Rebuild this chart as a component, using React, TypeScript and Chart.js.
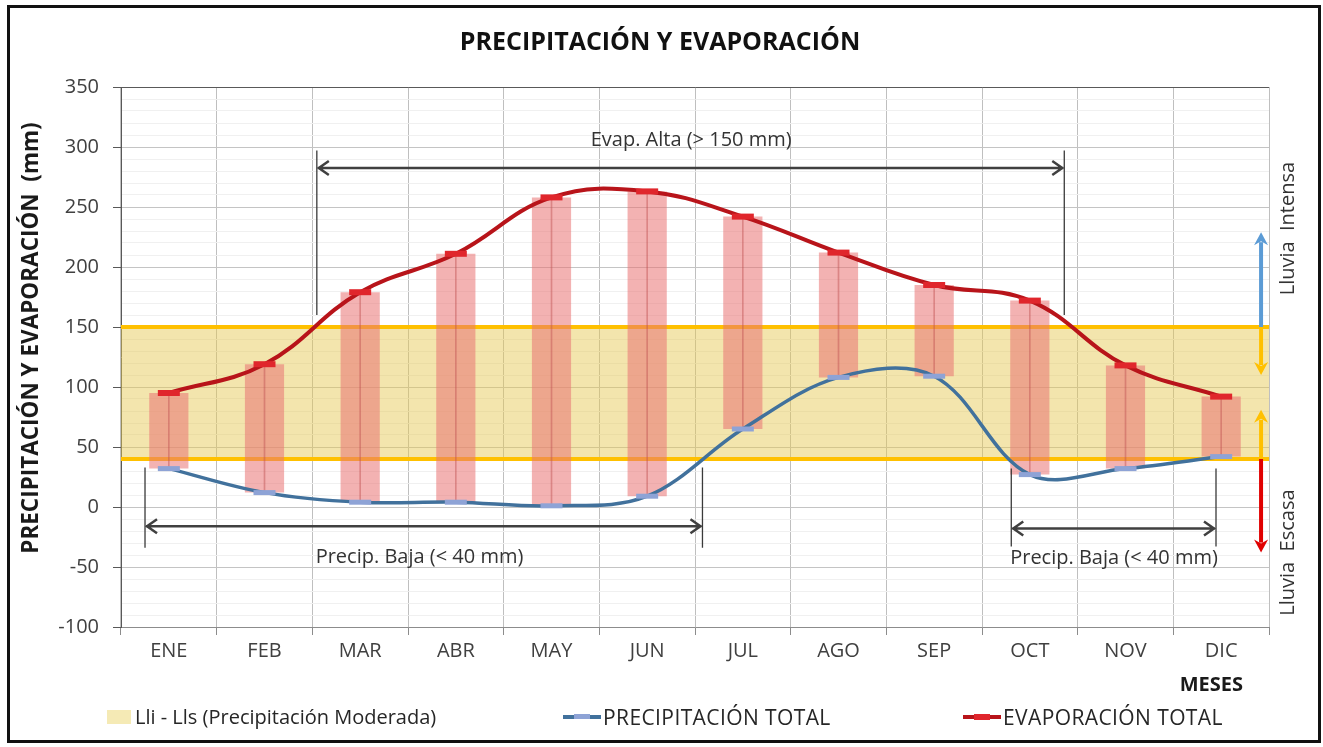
import React, { useEffect, useRef } from 'react';
import { Chart, registerables } from 'chart.js';

Chart.register(...registerables);

// ---------- data ----------
const MONTHS = ['ENE', 'FEB', 'MAR', 'ABR', 'MAY', 'JUN', 'JUL', 'AGO', 'SEP', 'OCT', 'NOV', 'DIC'];
const PRECIP = [32, 12, 4, 4, 1, 9, 65, 108, 109, 27, 32, 42];
const EVAP = [95, 119, 179, 211, 258, 263, 242, 212, 185, 172, 118, 92];
const BAND_LOW = 40;
const BAND_HIGH = 150;
const Y_MIN = -100;
const Y_MAX = 350;
const Y_STEP = 10;
const Y_MAJOR = 50;

// ---------- texts ----------
const TITLE = 'PRECIPITACIÓN Y EVAPORACIÓN';
const Y_TITLE = 'PRECIPITACIÓN Y EVAPORACIÓN  (mm)';
const X_TITLE = 'MESES';
const LEGEND_BAND = 'Lli - Lls (Precipitación Moderada)';
const LEGEND_PRECIP = 'PRECIPITACIÓN TOTAL';
const LEGEND_EVAP = 'EVAPORACIÓN TOTAL';

// ---------- annotations (x in category index units, y in mm) ----------
const DIM_TEXTS = ['Evap. Alta (> 150 mm)', 'Precip. Baja (< 40 mm)', 'Precip. Baja (< 40 mm)'];
const DIM_X1 = [1.547, -0.249, 8.806];
const DIM_X2 = [9.36, 5.578, 10.946];
const DIM_Y = [282.5, -16, -18];
const DIM_TOP = [297, 33, 32];
const DIM_BOTTOM = [160, -34, -33];
const DIM_TEXT_X = [5.46, 2.62, 9.88];
const DIM_TEXT_Y = [306, -42, -43];

const SIDE_FROM = [150, 150, 40, 40];
const SIDE_TO = [229, 110, 81, -38];
const SIDE_COLORS = ['#5B9BD5', '#FFC000', '#FFC000', '#E00000'];
const SIDE_X = 11.417;
const SIDE_LABELS = ['Lluvia  Intensa', 'Lluvia  Escasa'];
const SIDE_LABEL_Y = [232, -38];
const SIDE_LABEL_X = 11.7;

const FONT = '"Open Sans", "DejaVu Sans", sans-serif';
const TEXT_COLOR = '#333333';

const overlayPlugin = {
  id: 'overlay',
  afterDatasetsDraw(chart: any) {
    const { ctx, chartArea } = chart;
    const xs = chart.scales.x;
    const ys = chart.scales.y;
    const X = (v: number) => xs.getPixelForValue(v);
    const Y = (v: number) => ys.getPixelForValue(v);
    ctx.save();

    // dimension arrows
    for (let i = 0; i < DIM_TEXTS.length; i++) {
      const x1 = X(DIM_X1[i]);
      const x2 = X(DIM_X2[i]);
      const y = Y(DIM_Y[i]);
      ctx.strokeStyle = '#3a3a3a';
      ctx.lineWidth = 1.3;
      ctx.beginPath();
      ctx.moveTo(x1, Y(DIM_TOP[i]));
      ctx.lineTo(x1, Y(DIM_BOTTOM[i]));
      ctx.moveTo(x2, Y(DIM_TOP[i]));
      ctx.lineTo(x2, Y(DIM_BOTTOM[i]));
      ctx.stroke();
      ctx.lineWidth = 2.5;
      ctx.strokeStyle = '#404040';
      ctx.beginPath();
      ctx.moveTo(x1 + 1, y);
      ctx.lineTo(x2 - 1, y);
      ctx.moveTo(x1 + 12, y - 7);
      ctx.lineTo(x1 + 2, y);
      ctx.lineTo(x1 + 12, y + 7);
      ctx.moveTo(x2 - 12, y - 7);
      ctx.lineTo(x2 - 2, y);
      ctx.lineTo(x2 - 12, y + 7);
      ctx.stroke();
      ctx.fillStyle = TEXT_COLOR;
      ctx.font = `20px ${FONT}`;
      ctx.textAlign = 'center';
      ctx.textBaseline = 'middle';
      ctx.fillText(DIM_TEXTS[i], X(DIM_TEXT_X[i]), Y(DIM_TEXT_Y[i]));
    }

    // side arrows
    const sx = X(SIDE_X);
    for (let i = 0; i < SIDE_FROM.length; i++) {
      const y0 = Y(SIDE_FROM[i]);
      const y1 = Y(SIDE_TO[i]);
      const dir = y1 < y0 ? -1 : 1;
      ctx.strokeStyle = SIDE_COLORS[i];
      ctx.fillStyle = SIDE_COLORS[i];
      ctx.lineWidth = 4;
      ctx.beginPath();
      ctx.moveTo(sx, y0);
      ctx.lineTo(sx, y1 - dir * 10);
      ctx.stroke();
      ctx.beginPath();
      ctx.moveTo(sx, y1);
      ctx.lineTo(sx - 7, y1 - dir * 13);
      ctx.lineTo(sx, y1 - dir * 9);
      ctx.lineTo(sx + 7, y1 - dir * 13);
      ctx.closePath();
      ctx.fill();
    }

    // side labels
    ctx.fillStyle = TEXT_COLOR;
    ctx.font = `20px ${FONT}`;
    ctx.textAlign = 'center';
    ctx.textBaseline = 'middle';
    for (let i = 0; i < SIDE_LABELS.length; i++) {
      ctx.save();
      ctx.translate(X(SIDE_LABEL_X), Y(SIDE_LABEL_Y[i]));
      ctx.rotate(-Math.PI / 2);
      ctx.fillText(SIDE_LABELS[i], 0, 0);
      ctx.restore();
    }

    // chart title
    ctx.font = `bold 25px ${FONT}`;
    ctx.fillStyle = '#111111';
    ctx.textAlign = 'center';
    ctx.fillText(TITLE, 660, chartArea.top - 44);

    // x axis title
    ctx.font = `bold 20px ${FONT}`;
    ctx.fillStyle = '#1a1a1a';
    ctx.textAlign = 'right';
    ctx.fillText(X_TITLE, chartArea.right - 26, chartArea.bottom + 58);

    // y axis title
    ctx.save();
    ctx.translate(chartArea.left - 89, (chartArea.top + chartArea.bottom) / 2 - 19);
    ctx.rotate(-Math.PI / 2);
    ctx.font = `bold 22.5px ${FONT}`;
    ctx.textAlign = 'center';
    ctx.fillText(Y_TITLE, 0, 0);
    ctx.restore();

    ctx.restore();
  },
};

export default function App() {
  const ref = useRef<HTMLCanvasElement | null>(null);

  useEffect(() => {
    if (!ref.current) return;
    const ranges = EVAP.map((e, i) => [PRECIP[i], e]);
    const chart = new Chart(ref.current, {
      type: 'bar',
      data: {
        labels: MONTHS,
        datasets: [
          {
            type: 'line',
            label: 'Lli',
            xAxisID: 'x2',
            data: [{ x: 0, y: BAND_LOW }, { x: 1, y: BAND_LOW }],
            borderColor: '#FFC000',
            borderWidth: 4,
            pointRadius: 0,
            fill: false,
            order: 9,
          } as any,
          {
            type: 'line',
            label: LEGEND_BAND,
            xAxisID: 'x2',
            data: [{ x: 0, y: BAND_HIGH }, { x: 1, y: BAND_HIGH }],
            borderColor: '#FFC000',
            borderWidth: 4,
            pointRadius: 0,
            fill: '-1',
            backgroundColor: 'rgba(230,200,80,0.47)',
            order: 10,
          } as any,
          {
            type: 'bar',
            label: 'rango',
            data: ranges,
            backgroundColor: 'rgba(233,115,115,0.55)',
            barPercentage: 0.41,
            categoryPercentage: 1,
            grouped: false,
            order: 5,
          } as any,
          {
            type: 'bar',
            label: 'centro',
            data: ranges,
            backgroundColor: 'rgba(190,80,80,0.45)',
            barThickness: 1,
            grouped: false,
            order: 4,
          } as any,
          {
            type: 'line',
            label: LEGEND_PRECIP,
            data: PRECIP,
            borderColor: '#41719C',
            borderWidth: 3.5,
            tension: 0.35,
            pointStyle: 'line',
            pointRadius: 11,
            pointBorderWidth: 5,
            pointBorderColor: '#8EA3D6',
            fill: false,
            order: 2,
          } as any,
          {
            type: 'line',
            label: LEGEND_EVAP,
            data: EVAP,
            borderColor: '#B8141A',
            borderWidth: 4,
            tension: 0.4,
            pointStyle: 'line',
            pointRadius: 11,
            pointBorderWidth: 6,
            pointBorderColor: '#E0262C',
            fill: false,
            order: 1,
          } as any,
        ],
      },
      options: {
        responsive: false,
        maintainAspectRatio: false,
        devicePixelRatio: 1,
        animation: false,
        layout: { padding: { left: 0, right: 54, top: 87, bottom: 0 } },
        plugins: {
          legend: { display: false },
          tooltip: { enabled: false },
          title: { display: false },
        },
        scales: {
          x: {
            type: 'category',
            offset: true,
            grid: { offset: true, color: '#BFBFBF', tickColor: '#8C8C8C', tickLength: 8 },
            border: { color: '#8C8C8C' },
            ticks: {
              font: { family: FONT, size: 20 },
              color: '#404040',
              padding: 4,
              autoSkip: false,
              maxRotation: 0,
            },
            afterFit: (s: any) => {
              s.height = 120;
            },
          },
          x2: { type: 'linear', display: false, min: 0, max: 1, offset: false },
          y: {
            type: 'linear',
            min: Y_MIN,
            max: Y_MAX,
            ticks: {
              stepSize: Y_STEP,
              autoSkip: false,
              font: { family: FONT, size: 20 },
              color: '#404040',
              padding: 14,
              callback: (v: any) => (Number(v) % Y_MAJOR === 0 ? String(v) : ''),
            },
            grid: {
              color: (c: any) => {
                const v = c.tick ? c.tick.value : 0;
                if (v === Y_MAX) return '#595959';
                return v % Y_MAJOR === 0 ? '#C4C4C4' : '#F0F0F0';
              },
              tickColor: (c: any) => {
                const v = c.tick ? c.tick.value : 0;
                return v % Y_MAJOR === 0 ? '#595959' : 'rgba(0,0,0,0)';
              },
              tickLength: 8,
            },
            border: { color: '#595959' },
            afterFit: (s: any) => {
              s.width = 121;
            },
          },
        },
      } as any,
      plugins: [overlayPlugin],
    });
    let alive = true;
    if ((document as any).fonts && (document as any).fonts.ready) {
      (document as any).fonts.ready.then(() => {
        if (alive) chart.update();
      });
    }
    return () => {
      alive = false;
      chart.destroy();
    };
  }, []);

  const legendText: React.CSSProperties = {
    position: 'absolute',
    top: 704,
    fontSize: 21,
    lineHeight: '26px',
    color: '#262626',
    whiteSpace: 'nowrap',
  };

  return (
    <div
      style={{
        position: 'absolute',
        left: 0,
        top: 0,
        width: 1323,
        height: 747,
        background: '#ffffff',
        fontFamily: FONT,
        overflow: 'hidden',
      }}
    >
      <canvas ref={ref} width={1323} height={747} style={{ position: 'absolute', left: 0, top: 0, width: 1323, height: 747 }} />
      {/* legend */}
      <div style={{ position: 'absolute', left: 107, top: 710, width: 24, height: 14, background: '#F5EAB5' }} />
      <div style={{ ...legendText, left: 135, fontSize: 20 }}>{LEGEND_BAND}</div>
      <div style={{ position: 'absolute', left: 563, top: 715, width: 38, height: 4, background: '#41719C' }} />
      <div style={{ position: 'absolute', left: 574, top: 714, width: 16, height: 5, background: '#8EA3D6' }} />
      <div style={{ ...legendText, left: 603, letterSpacing: 0.4 }}>{LEGEND_PRECIP}</div>
      <div style={{ position: 'absolute', left: 963, top: 715, width: 38, height: 4, background: '#B8141A' }} />
      <div style={{ position: 'absolute', left: 974, top: 714, width: 16, height: 6, background: '#E0262C' }} />
      <div style={{ ...legendText, left: 1003, letterSpacing: 0.4 }}>{LEGEND_EVAP}</div>
      {/* outer frame */}
      <div
        style={{
          position: 'absolute',
          left: 7,
          top: 5,
          width: 1314,
          height: 738,
          border: '3px solid #111',
          boxSizing: 'border-box',
          pointerEvents: 'none',
        }}
      />
    </div>
  );
}
